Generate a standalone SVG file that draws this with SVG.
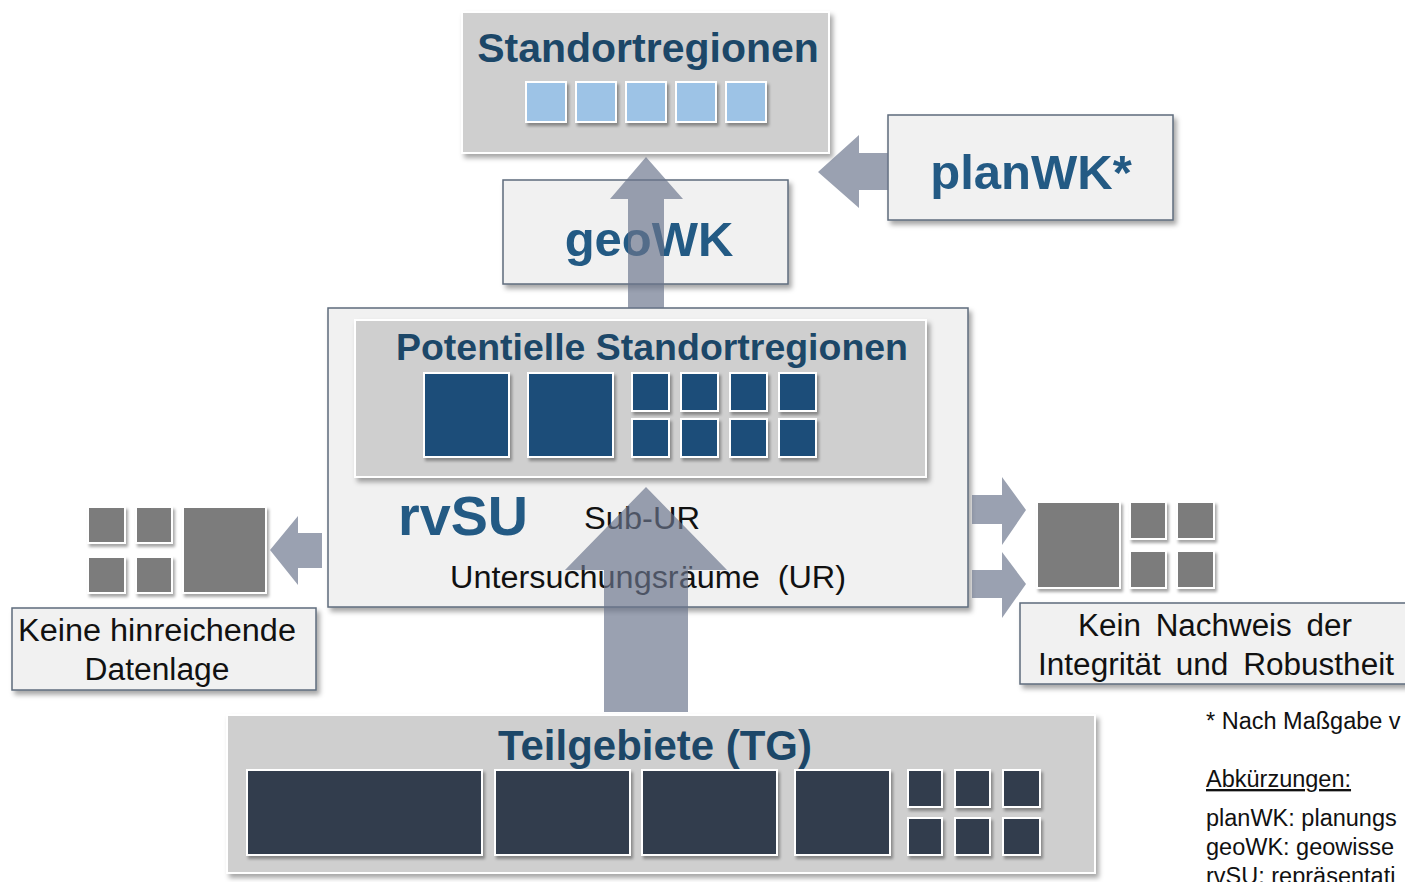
<svg xmlns="http://www.w3.org/2000/svg" width="1405" height="882" viewBox="0 0 1405 882">
<defs>
<filter id="sh" x="-10%" y="-10%" width="130%" height="140%">
<feDropShadow dx="3" dy="4" stdDeviation="2.5" flood-color="#000" flood-opacity="0.35"/>
</filter>
<filter id="shs" x="-20%" y="-20%" width="150%" height="150%">
<feDropShadow dx="2" dy="3" stdDeviation="1.8" flood-color="#000" flood-opacity="0.35"/>
</filter>
<style>
.gbox{fill:#cfcfcf;stroke:#ffffff;stroke-width:2;filter:url(#sh)}
.lbox{fill:#f1f1f1;stroke:#5e6b7c;stroke-width:1.5;filter:url(#sh)}
.lb{fill:#9dc3e6;stroke:#ffffff;stroke-width:2;filter:url(#shs)}
.db{fill:#1f4e79;stroke:#ffffff;stroke-width:2;filter:url(#shs)}
.nv{fill:#333c4e;stroke:#ffffff;stroke-width:2;filter:url(#shs)}
.gr{fill:#7b7b7b;stroke:#ffffff;stroke-width:2;filter:url(#shs)}
.title{font-family:"Liberation Sans",Arial,sans-serif;font-weight:bold;fill:#1c4768}
.big{font-family:"Liberation Sans",Arial,sans-serif;font-weight:bold;fill:#235a84}
.reg{font-family:"Liberation Sans",Arial,sans-serif;fill:#111111}
.note{font-family:"Liberation Sans",Arial,sans-serif;fill:#111111;font-size:23.5px}
.arr{fill:#6a758c;fill-opacity:0.68}
</style>
</defs>
<rect width="1405" height="882" fill="#ffffff"/>

<g id="standortregionen">
<rect class="gbox" x="462" y="12" width="367" height="141"/>
<text class="title" x="648" y="62" font-size="41" text-anchor="middle">Standortregionen</text>
<rect class="lb" x="526" y="82" width="40" height="40"/>
<rect class="lb" x="576" y="82" width="40" height="40"/>
<rect class="lb" x="626" y="82" width="40" height="40"/>
<rect class="lb" x="676" y="82" width="40" height="40"/>
<rect class="lb" x="726" y="82" width="40" height="40"/>
</g>

<g id="planWK">
<rect class="lbox" x="888" y="115" width="285" height="105"/>
<text class="big" x="1031" y="189" font-size="49" text-anchor="middle">planWK*</text>
</g>

<g id="geoWK">
<rect class="lbox" x="503" y="180" width="285" height="104"/>
<text class="big" x="649" y="256" font-size="49" text-anchor="middle">geoWK</text>
</g>

<g id="rvSU">
<rect class="lbox" x="328" y="308" width="640" height="299"/>
<rect class="gbox" x="355" y="320" width="571" height="157"/>
<text class="title" x="396" y="360" font-size="37" textLength="512" lengthAdjust="spacingAndGlyphs">Potentielle Standortregionen</text>
<rect class="db" x="424" y="373" width="85" height="84"/>
<rect class="db" x="528" y="373" width="85" height="84"/>
<rect class="db" x="632" y="373" width="37" height="38"/>
<rect class="db" x="681" y="373" width="37" height="38"/>
<rect class="db" x="730" y="373" width="37" height="38"/>
<rect class="db" x="779" y="373" width="37" height="38"/>
<rect class="db" x="632" y="419" width="37" height="38"/>
<rect class="db" x="681" y="419" width="37" height="38"/>
<rect class="db" x="730" y="419" width="37" height="38"/>
<rect class="db" x="779" y="419" width="37" height="38"/>
<text class="big" x="398" y="535" font-size="56" textLength="130" lengthAdjust="spacingAndGlyphs">rvSU</text>
<text class="reg" x="584" y="529" font-size="31" textLength="116" lengthAdjust="spacingAndGlyphs">Sub-UR</text>
<text class="reg" x="450" y="588" font-size="31" textLength="396" lengthAdjust="spacingAndGlyphs" xml:space="preserve">Untersuchungsräume  (UR)</text>
</g>

<g id="keine-datenlage">
<rect class="gr" x="88" y="507" width="37" height="36"/>
<rect class="gr" x="136" y="507" width="36" height="36"/>
<rect class="gr" x="88" y="557" width="37" height="36"/>
<rect class="gr" x="136" y="557" width="36" height="36"/>
<rect class="gr" x="183" y="507" width="83" height="86"/>
<rect class="lbox" x="12" y="608" width="304" height="82"/>
<text class="reg" x="157" y="641" font-size="31" text-anchor="middle" textLength="278" lengthAdjust="spacingAndGlyphs">Keine hinreichende</text>
<text class="reg" x="157" y="680" font-size="31" text-anchor="middle" textLength="145" lengthAdjust="spacingAndGlyphs">Datenlage</text>
</g>

<g id="kein-nachweis">
<rect class="gr" x="1037" y="502" width="83" height="86"/>
<rect class="gr" x="1130" y="502" width="36" height="37"/>
<rect class="gr" x="1177" y="502" width="37" height="37"/>
<rect class="gr" x="1130" y="551" width="36" height="37"/>
<rect class="gr" x="1177" y="551" width="37" height="37"/>
<rect class="lbox" x="1020" y="603" width="390" height="81"/>
<text class="reg" x="1215" y="636" font-size="31" text-anchor="middle" textLength="274" lengthAdjust="spacingAndGlyphs" word-spacing="6">Kein Nachweis der</text>
<text class="reg" x="1216" y="675" font-size="31" text-anchor="middle" textLength="356" lengthAdjust="spacingAndGlyphs" word-spacing="6">Integrität und Robustheit</text>
</g>

<g id="teilgebiete">
<rect class="gbox" x="227" y="715" width="868" height="158"/>
<text class="title" x="655" y="760" font-size="42" text-anchor="middle" textLength="314" lengthAdjust="spacingAndGlyphs">Teilgebiete (TG)</text>
<rect class="nv" x="247" y="770" width="235" height="85"/>
<rect class="nv" x="495" y="770" width="135" height="85"/>
<rect class="nv" x="642" y="770" width="135" height="85"/>
<rect class="nv" x="795" y="770" width="95" height="85"/>
<rect class="nv" x="908" y="770" width="34" height="37"/>
<rect class="nv" x="955" y="770" width="35" height="37"/>
<rect class="nv" x="1003" y="770" width="37" height="37"/>
<rect class="nv" x="908" y="818" width="34" height="37"/>
<rect class="nv" x="955" y="818" width="35" height="37"/>
<rect class="nv" x="1003" y="818" width="37" height="37"/>
</g>

<g id="connectors">
<polygon class="arr" points="646,157 683,199 664,199 664,308 628,308 628,199 610,199"/>
<polygon class="arr" points="818,172 859,135 859,153 888,153 888,190 859,190 859,208"/>
<polygon class="arr" points="646,487 727,570 688,570 688,712 604,712 604,570 565,570"/>
<polygon class="arr" points="270,550 298,516 298,533 322,533 322,568 298,568 298,585"/>
<polygon class="arr" points="1026,510 1002,477 1002,495 972,495 972,524 1002,524 1002,545"/>
<polygon class="arr" points="1026,584 1002,552 1002,570 972,570 972,598 1002,598 1002,618"/>
</g>

<g id="legend">
<text class="note" x="1206" y="729">* Nach Maßgabe v</text>
<text class="note" x="1206" y="787" text-decoration="underline">Abkürzungen:</text>
<text class="note" x="1206" y="826">planWK: planungs</text>
<text class="note" x="1206" y="855">geoWK: geowisse</text>
<text class="note" x="1206" y="884">rvSU: repräsentati</text>
</g>
</svg>
